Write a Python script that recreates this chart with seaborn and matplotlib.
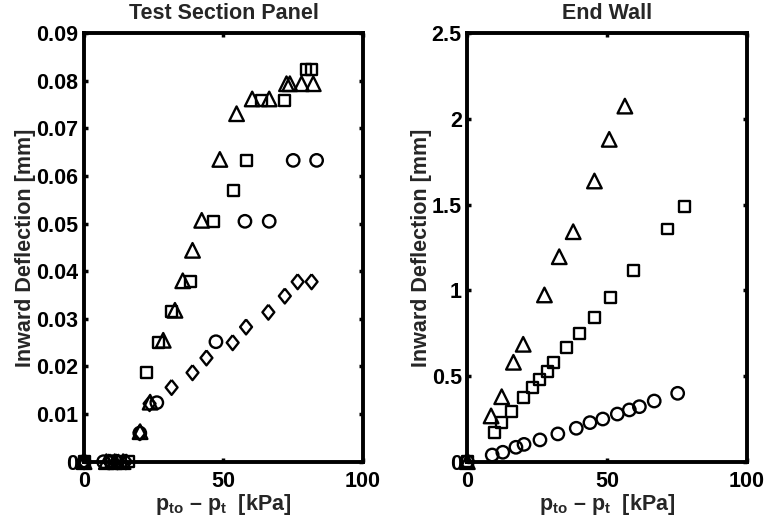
import numpy as np
import pandas as pd
import seaborn as sns
import matplotlib
matplotlib.use("Agg")
import matplotlib.pyplot as plt

# ---------------- data ----------------
# Left panel: Test Section Panel
tsp_tri_x = [0, 8, 11, 14, 20.1, 23.7, 28.4, 32.6, 35.4, 38.9, 42.2, 48.7, 54.7, 60.3, 66.4, 72.6, 73.8, 78.0, 82.2]
tsp_tri_y = [0, 0, 0, 0, 0.0063, 0.0125, 0.0255, 0.0318, 0.038, 0.0444, 0.0507, 0.0635, 0.0731, 0.0762, 0.0762, 0.0794, 0.0794, 0.0794, 0.0794]
tsp_sq_x = [0, 10, 13, 16, 22.5, 26.6, 31.4, 38.1, 46.3, 53.5, 58.1, 63.7, 72.0, 79.6, 81.4]
tsp_sq_y = [0, 0, 0, 0, 0.0188, 0.025, 0.0315, 0.0378, 0.0505, 0.057, 0.0633, 0.0759, 0.0759, 0.0824, 0.0824]
tsp_circ_x = [0, 7, 10, 12, 20.0, 26.1, 47.3, 57.7, 66.4, 75.0, 83.4]
tsp_circ_y = [0, 0, 0, 0, 0.006, 0.0124, 0.0252, 0.0505, 0.0505, 0.0633, 0.0633]
tsp_dia_x = [0, 9, 12, 15, 20.0, 23.5, 31.4, 38.9, 43.9, 53.3, 58.1, 66.1, 72.0, 76.6, 81.6]
tsp_dia_y = [0, 0, 0, 0, 0.0061, 0.0122, 0.0156, 0.0187, 0.0218, 0.025, 0.0283, 0.0314, 0.0348, 0.0378, 0.0378]

# Right panel: End Wall
ew_tri_x = [0, 8.5, 12.3, 16.5, 20.0, 27.6, 32.9, 37.9, 45.5, 50.8, 56.4]
ew_tri_y = [0, 0.267, 0.379, 0.58, 0.685, 0.973, 1.196, 1.342, 1.638, 1.881, 2.075]
ew_sq_x = [0, 9.7, 12.1, 15.9, 20.0, 23.3, 25.7, 28.6, 31.0, 35.6, 40.0, 45.5, 51.4, 59.4, 71.6, 77.6]
ew_sq_y = [0, 0.169, 0.23, 0.292, 0.373, 0.432, 0.477, 0.525, 0.578, 0.665, 0.749, 0.842, 0.957, 1.113, 1.358, 1.488]
ew_circ_x = [0, 8.9, 12.7, 17.4, 20.3, 26.0, 32.4, 39.0, 43.9, 48.5, 53.7, 58.0, 61.6, 66.9, 75.3]
ew_circ_y = [0, 0.039, 0.055, 0.084, 0.101, 0.127, 0.162, 0.195, 0.228, 0.249, 0.278, 0.302, 0.321, 0.354, 0.399]

titles = ["Test Section Panel", "End Wall"]
xticks = [0, 50, 100]
left_yticks = [0, 0.01, 0.02, 0.03, 0.04, 0.05, 0.06, 0.07, 0.08, 0.09]
left_yticklabels = ["0", "0.01", "0.02", "0.03", "0.04", "0.05", "0.06", "0.07", "0.08", "0.09"]
right_yticks = [0, 0.5, 1, 1.5, 2, 2.5]
right_yticklabels = ["0", "0.5", "1", "1.5", "2", "2.5"]
xlabel = r"$p_{to}$ – $p_t$  [kPa]"
ylabel = "Inward Deflection [mm]"

# ---------------- style ----------------
sns.set_style("ticks")
plt.rcParams["font.family"] = ["Liberation Sans", "DejaVu Sans"]
plt.rcParams["font.weight"] = "bold"
plt.rcParams["mathtext.fontset"] = "custom"
plt.rcParams["mathtext.rm"] = "Liberation Sans:bold"
plt.rcParams["mathtext.it"] = "Liberation Sans:bold"
plt.rcParams["mathtext.bf"] = "Liberation Sans:bold"
plt.rcParams["mathtext.default"] = "bf"

FS = 15.5

fig = plt.figure(figsize=(7.64, 5.25), dpi=100)
ax1 = fig.add_axes([0.110, 0.1206, 0.365, 0.816])
ax2 = fig.add_axes([0.6117, 0.1206, 0.3656, 0.816])

diamond = [(0, 1), (0.8, 0), (0, -1), (-0.8, 0), (0, 1)]
EW = 1.7


def draw(ax, x, y, marker, size):
    df = pd.DataFrame({"x": x, "y": y})
    sns.scatterplot(data=df, x="x", y="y", ax=ax, marker=marker, s=size,
                    facecolors="none", edgecolor="black", linewidth=EW,
                    clip_on=False, zorder=3, legend=False)


draw(ax1, tsp_circ_x, tsp_circ_y, "o", 80)
draw(ax1, tsp_dia_x, tsp_dia_y, diamond, 115)
draw(ax1, tsp_sq_x, tsp_sq_y, "s", 62)
draw(ax1, tsp_tri_x, tsp_tri_y, "^", 110)

draw(ax2, ew_circ_x, ew_circ_y, "o", 80)
draw(ax2, ew_sq_x, ew_sq_y, "s", 62)
draw(ax2, ew_tri_x, ew_tri_y, "^", 110)

for ax, title, yt, ytl, ylim in [
    (ax1, titles[0], left_yticks, left_yticklabels, (0, 0.09)),
    (ax2, titles[1], right_yticks, right_yticklabels, (0, 2.5)),
]:
    ax.set_xlim(0, 100)
    ax.set_ylim(*ylim)
    ax.set_xticks(xticks)
    ax.set_xticklabels([str(v) for v in xticks])
    ax.set_yticks(yt)
    ax.set_yticklabels(ytl)
    ax.tick_params(direction="in", length=3, width=2.5, top=True, right=True,
                   labelsize=FS, color="black", labelcolor="black")
    ax.tick_params(axis="x", pad=7)
    ax.tick_params(axis="y", pad=4)
    for lab in ax.get_xticklabels() + ax.get_yticklabels():
        lab.set_fontweight("bold")
    for sp in ax.spines.values():
        sp.set_visible(True)
        sp.set_linewidth(2.8)
        sp.set_color("black")
    ax.set_title(title, fontsize=FS, fontweight="bold", pad=10)
    ax.set_xlabel(xlabel, fontsize=FS, fontweight="bold", labelpad=0)
    ax.set_ylabel(ylabel, fontsize=FS, fontweight="bold", labelpad=0)

fig.savefig("out.png", dpi=100)
